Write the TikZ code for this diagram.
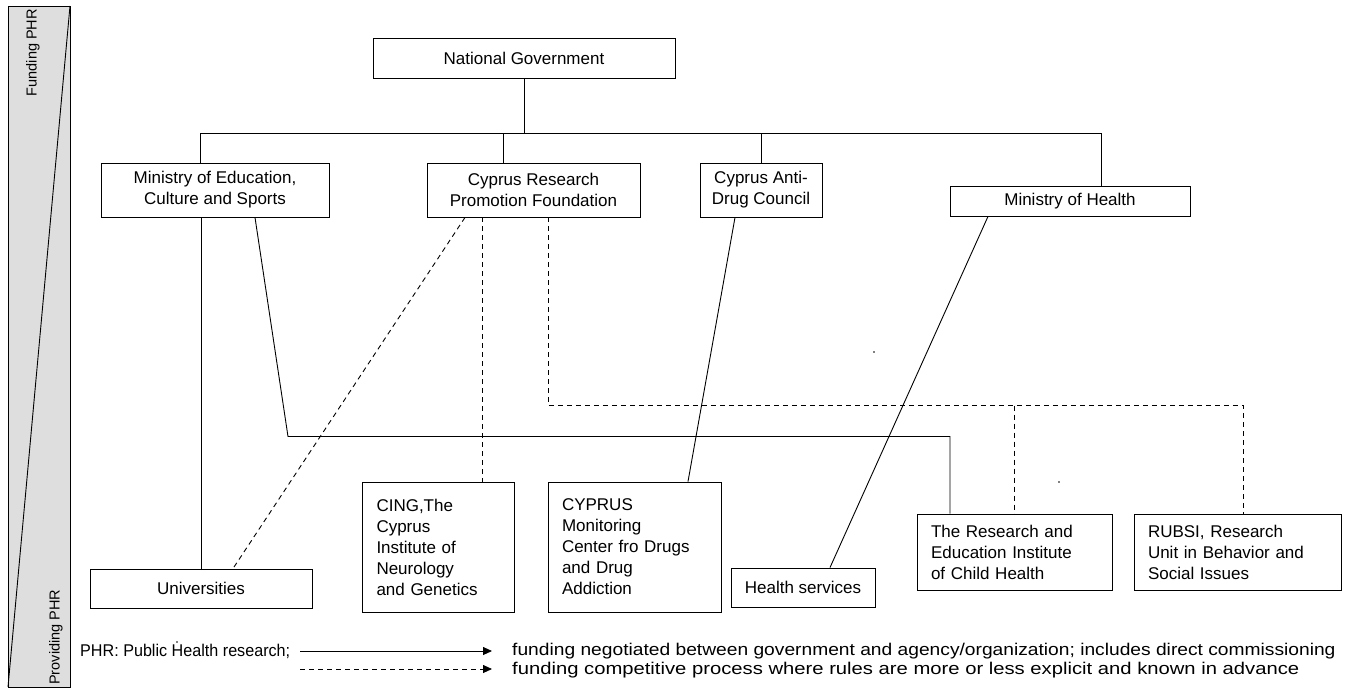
\documentclass[tikz,border=0pt]{standalone}
\usepackage{fontspec}
\setmainfont{Liberation Sans}
\usetikzlibrary{arrows.meta,calc}
\newcommand\mfs{\fontsize{17}{21}\selectfont}
\newcommand\sfs{\fontsize{14.5}{16}\selectfont}
\tikzset{
  box/.style={draw, line width=0.9pt, fill=white, align=center, inner sep=0pt, font=\mfs},
  lbox/.style={box, align=left, inner xsep=14pt, inner ysep=0pt},
  conn/.style={line width=0.9pt},
  dconn/.style={line width=0.9pt, dash pattern=on 5pt off 4pt},
  dotmark/.style={circle, fill=black, inner sep=0pt, minimum size=1.6pt},
  legtxt/.style={font=\mfs, anchor=west, inner sep=0pt}
}
\begin{document}
\begin{tikzpicture}[x=1pt,y=-1pt]
\useasboundingbox (0,0) rectangle (1349,691);
% left bar
\path[draw=black, line width=0.9pt, fill=black!13] (8,6) rectangle (70,687);
\draw[line width=0.9pt] (70,6) -- (8,687);
\node[rotate=90, anchor=east, font=\sfs, inner sep=0pt] (fund) at (33,9) {Funding PHR};
\node[rotate=90, anchor=west, font=\sfs, inner sep=0pt] (prov) at (56,685) {Providing PHR};

% top boxes
\node[box, minimum width=302pt, minimum height=40pt] (ng) at (524,58) {National Government};
\node[box, minimum width=228pt, minimum height=54pt] (moe) at (215,190) {Ministry of Education,\\Culture and Sports};
\node[box, minimum width=213pt, minimum height=54pt] (crpf) at (533.5,190) {Cyprus Research\\Promotion Foundation};
\node[box, minimum width=122pt, minimum height=54pt] (cadc) at (761,190) {Cyprus Anti-\\Drug Council};
\node[box, minimum width=240pt, minimum height=30pt] (moh) at (1070,201) {Ministry of Health};

% bottom boxes
\node[box, minimum width=222pt, minimum height=39pt] (univ) at (201,588.5) {Universities};
\node[lbox, text width=124pt, minimum width=152pt, minimum height=130pt] (cing) at (438.5,547) {CING,The\\Cyprus\\Institute of\\Neurology\\and Genetics};
\node[lbox, text width=145pt, minimum width=173pt, minimum height=130pt] (cmc) at (634.5,547) {CYPRUS\\Monitoring\\Center fro Drugs\\and Drug\\Addiction};
\node[box, minimum width=144pt, minimum height=39pt] (hs) at (803,587.5) {Health services};
\node[lbox, text width=167pt, minimum width=195pt, minimum height=76pt] (reich) at (1014.5,552) {The Research and\\Education Institute\\of Child Health};
\node[lbox, text width=179pt, minimum width=207pt, minimum height=76pt] (rubsi) at (1237.5,552) {RUBSI, Research\\Unit in Behavior and\\Social Issues};

% tree from National Government
\coordinate (bus) at (0,133.5);
\coordinate (moeT) at ([xshift=-15pt]moe.north);
\coordinate (crpfT) at ([xshift=-30pt]crpf.north);
\coordinate (mohT) at ([xshift=31pt]moh.north);
\draw[conn] (ng.south) -- (ng.south |- bus);
\draw[conn] (moeT) |- (mohT |- bus) -- (mohT);
\draw[conn] (crpfT) -- (crpfT |- bus);
\draw[conn] (cadc.north) -- (cadc.north |- bus);

% Ministry of Education
\draw[conn] (univ.north) -- (univ.north |- moe.south);
\coordinate (moeB) at ([xshift=40pt]moe.south);
\coordinate (moeK) at (288,436.5);
\coordinate (reichS) at ([xshift=-64.5pt]reich.north);
\draw[conn] (moeB) -- (moeK) -| (reichS);

% Cyprus Research Promotion Foundation (dashed)
\coordinate (crpfU) at ([xshift=-68.5pt]crpf.south);
\coordinate (univD) at ([xshift=32pt]univ.north);
\draw[dconn] (crpfU) -- (univD);
\coordinate (cingT) at ([xshift=43.5pt]cing.north);
\draw[dconn] (cingT |- crpf.south) -- (cingT);
\coordinate (crpfR) at ([xshift=14.5pt]crpf.south);
\coordinate (rubsiT) at ([xshift=5.5pt]rubsi.north);
\coordinate (dash) at (0,405.5);
\draw[dconn] (crpfR) |- (rubsiT |- dash) -- (rubsiT);
\draw[dconn] (reich.north |- dash) -- (reich.north);

% Anti-Drug Council and Ministry of Health
\coordinate (cadcB) at ([xshift=-26pt]cadc.south);
\coordinate (cmcT) at ([xshift=53.5pt]cmc.north);
\draw[conn] (cadcB) -- (cmcT);
\coordinate (mohB) at ([xshift=-82pt]moh.south);
\coordinate (hsT) at ([xshift=27pt]hs.north);
\draw[conn] (mohB) -- (hsT);

% stray dots
\node[dotmark] (d1) at (874,352) {};
\node[dotmark] (d2) at (1059,482) {};
\node[dotmark] (d3) at (177,642) {};

% legend
\node[legtxt] (phr) at (80,651) {\scalebox{0.95}[1]{PHR: Public Health research;}};
\coordinate (a1s) at (300,651);
\coordinate (a1e) at (492,651);
\coordinate (a2s) at (300,669);
\coordinate (a2e) at (492,669);
\draw[conn, -{Triangle[length=9pt,width=8pt]}] (a1s) -- (a1e);
\draw[dconn, -{Triangle[length=9pt,width=8pt]}] (a2s) -- (a2e);
\node[legtxt] (l1) at (512,651) {\scalebox{1.13}[1]{funding negotiated between government and agency/organization; includes direct commissioning}};
\node[legtxt] (l2) at (512,670) {\scalebox{1.19}[1]{funding competitive process where rules are more or less explicit and known in advance}};
\end{tikzpicture}
\end{document}
